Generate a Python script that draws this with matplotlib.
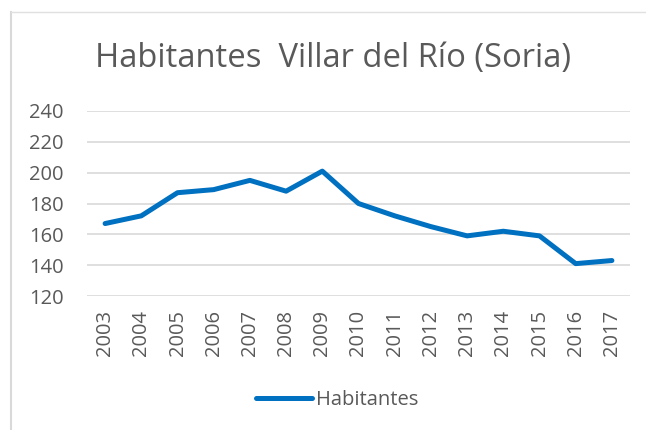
import matplotlib.pyplot as plt
from matplotlib.lines import Line2D

years = ['2003', '2004', '2005', '2006', '2007', '2008', '2009', '2010',
         '2011', '2012', '2013', '2014', '2015', '2016', '2017']
habitantes = [167, 172, 187, 189, 195, 188, 201, 180, 172, 165, 159, 162, 159, 141, 143]
yticks = [120, 140, 160, 180, 200, 220, 240]

plt.rcParams['font.family'] = ['Open Sans', 'DejaVu Sans']
gray = '#595959'
blue = '#0070C0'

W, H = 646, 430
fig = plt.figure(figsize=(W / 100, H / 100), dpi=100)
ax = fig.add_axes([87 / W, 1 - 296 / H, (630 - 87) / W, (296 - 111) / H])

x = list(range(len(years)))
ax.plot(x, habitantes, color=blue, lw=3.6, solid_capstyle='round', solid_joinstyle='round')
ax.set_xlim(-0.5, len(years) - 0.5)
ax.set_ylim(120, 240)
ax.set_yticks(yticks)
ax.set_xticks(x)
ax.set_xticklabels(years, rotation=90)
ax.grid(axis='y', color='#d9d9d9', lw=1.2)
ax.set_axisbelow(True)
for s in ax.spines.values():
    s.set_visible(False)
ax.tick_params(length=0, labelsize=14.5, colors=gray)
ax.tick_params(axis='x', pad=10)
ax.tick_params(axis='y', pad=17)

fig.text(333 / W, 1 - 58 / H, 'Habitantes  Villar del Río (Soria)', ha='center', va='center',
         fontsize=23.6, color=gray)

# chart border (left and top only visible)
fig.add_artist(Line2D([11 / W, 11 / W], [0, 1 - 12 / H], color='#d9d9d9', lw=1.5))
fig.add_artist(Line2D([11 / W, 1], [1 - 12 / H, 1 - 12 / H], color='#e0e0e0', lw=1))

handle = Line2D([], [], color=blue, lw=3.6, solid_capstyle='round')
fig.legend([handle], ['Habitantes'], loc='center', bbox_to_anchor=(337 / W, 1 - 400 / H),
           frameon=False, fontsize=14.5, labelcolor=gray, handlelength=2.8, handletextpad=0.2)

fig.savefig('out.png', dpi=100)
